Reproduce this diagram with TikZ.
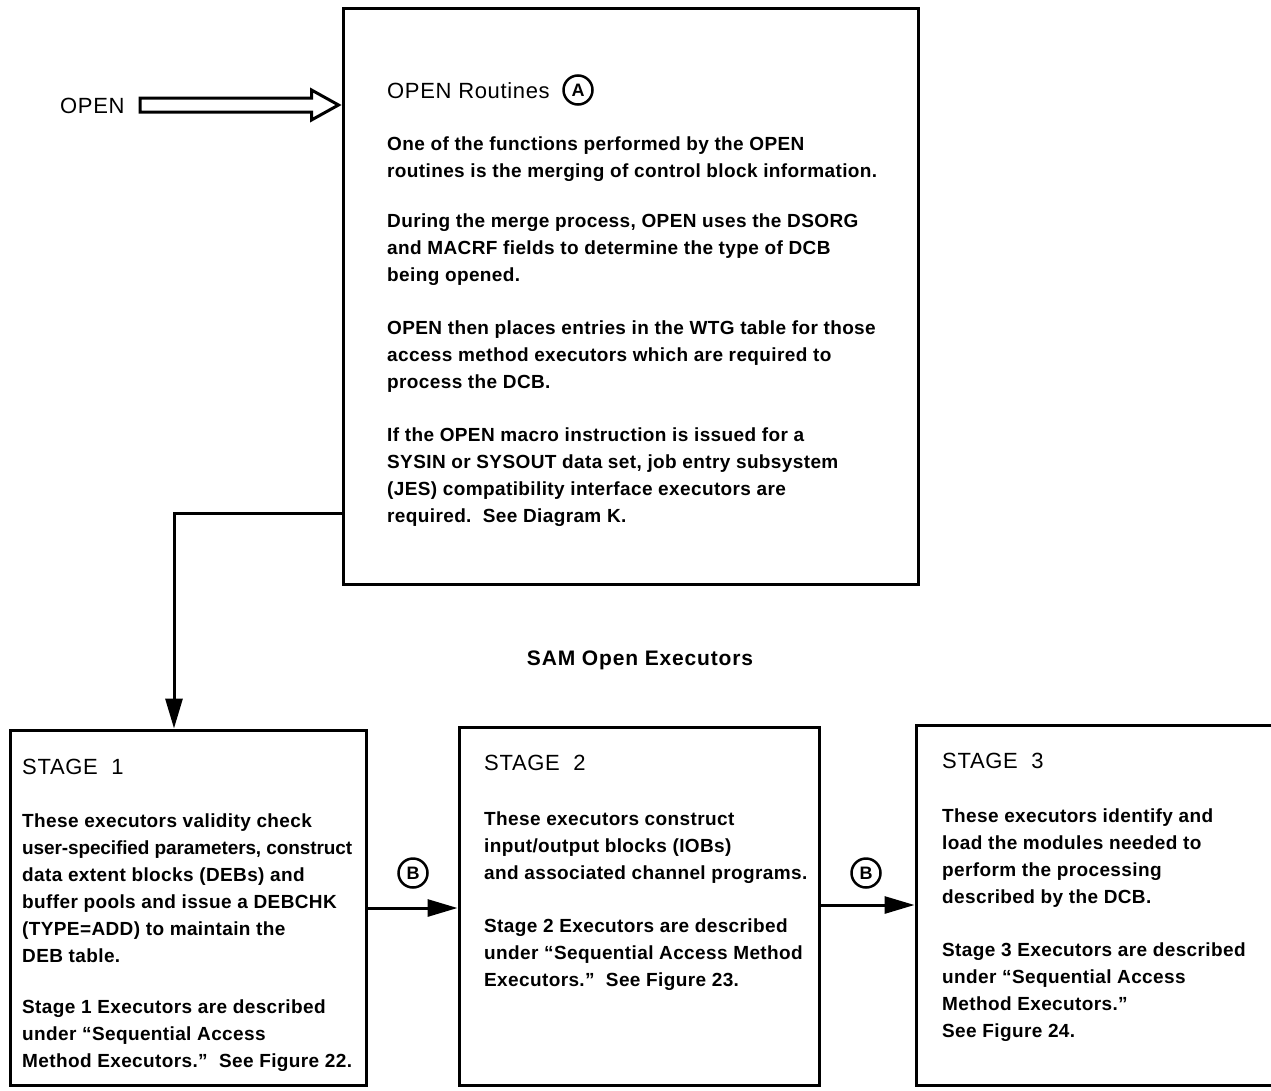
\documentclass[tikz,border=0pt]{standalone}
\usepackage{fontspec}
\setmainfont{Liberation Sans}
\usetikzlibrary{arrows.meta,calc}
\newcommand\bodysize{\fontsize{19}{27}\selectfont\bfseries\addfontfeature{LetterSpace=2}}
\newcommand\titlesize{\fontsize{22}{27}\selectfont\addfontfeature{LetterSpace=3}}
\newcommand\tighter{\addfontfeature{LetterSpace=-0.6}}
\newcommand\paralines[4]{%
  \foreach \t [count=\i] in {#4} {%
    \node[bodytxt] (#1\i) at (#2,{#3+27*(\i-1)}) {\t};}}
\tikzset{
  bodytxt/.style={font=\bodysize, anchor=base west, inner sep=0pt},
  titletxt/.style={font=\titlesize, anchor=base west, inner sep=0pt},
  box/.style={draw, line width=3pt, rectangle, inner sep=0pt},
  conn/.style={line width=3pt, -{Triangle[length=30pt,width=17pt]}},
  circ/.style={draw, circle, line width=2.5pt, minimum size=29pt, inner sep=0pt, font=\fontsize{18}{18}\selectfont\bfseries},
}
\begin{document}
\begin{tikzpicture}[x=1pt,y=-1pt]
\clip (0,0) rectangle (1271,1090);
\fill[white] (0,0) rectangle (1271,1090);

% boxes
\node[box, minimum width=575pt, minimum height=576pt] (top) at (630.5,296) {};
\node[box, minimum width=356pt, minimum height=355pt] (s1) at (188,907.5) {};
\node[box, minimum width=360pt, minimum height=358pt] (s2) at (639,906) {};
\node[box, minimum width=400pt, minimum height=360pt] (s3) at (1116,905) {};

% OPEN label and hollow arrow
\node[titletxt] (openlbl) at (60,113) {OPEN};
\coordinate (ha0) at (140,105);
\coordinate (ha1) at (top.west |- ha0);
\draw[line width=3pt, line join=miter]
  ($(ha0)+(0,-7)$) -- ($(ha1)+(-30,-7)$) -- ($(ha1)+(-30,-15)$) -- ($(ha1)+(-3,0)$)
  -- ($(ha1)+(-30,15)$) -- ($(ha1)+(-30,7)$) -- ($(ha0)+(0,7)$) -- cycle;

% top box text
\node[titletxt] (toptitle) at (387,98) {OPEN Routines};
\node[circ] (cA) at (578,90) {A};
\paralines{ta}{387}{150}{{One of the functions performed by the OPEN},{routines is the merging of control block information.}}
\paralines{tb}{387}{227}{{During the merge process, OPEN uses the DSORG},{and MACRF fields to determine the type of DCB},{being opened.}}
\paralines{tc}{387}{334}{{OPEN then places entries in the WTG table for those},{access method executors which are required to},{process the DCB.}}
\paralines{td}{387}{441}{{If the OPEN macro instruction is issued for a},{SYSIN or SYSOUT data set, job entry subsystem},{(JES) compatibility interface executors are},{required.\ \ See Diagram K.}}

% heading
\node[font=\fontsize{21}{21}\selectfont\bfseries\addfontfeature{LetterSpace=4}, anchor=base, inner sep=0pt] (sam) at (640,665) {SAM Open Executors};

% stage 1
\node[titletxt] (s1t) at (22,774) {STAGE\ \ 1};
\paralines{sa}{22}{827}{{These executors validity check},{\tighter user-specified parameters, construct},{data extent blocks (DEBs) and},{buffer pools and issue a DEBCHK},{(TYPE=ADD) to maintain the},{DEB table.}}
\paralines{sb}{22}{1013}{{Stage 1 Executors are described},{under “Sequential Access},{Method Executors.”\ \ See Figure 22.}}

% stage 2
\node[titletxt] (s2t) at (484,770) {STAGE\ \ 2};
\paralines{sc}{484}{825}{{These executors construct},{input/output blocks (IOBs)},{and associated channel programs.}}
\paralines{sd}{484}{932}{{Stage 2 Executors are described},{under “Sequential Access Method},{Executors.”\ \ See Figure 23.}}

% stage 3
\node[titletxt] (s3t) at (942,768) {STAGE\ \ 3};
\paralines{se}{942}{822}{{These executors identify and},{load the modules needed to},{perform the processing},{described by the DCB.}}
\paralines{sf}{942}{956}{{Stage 3 Executors are described},{under “Sequential Access},{Method Executors.”},{See Figure 24.}}

% connectors
\coordinate (c1) at (top.west |- 0,513);
\coordinate (c2) at (174,513);
\draw[conn] (c1) -- (c2) -- (c2 |- s1.north);
\node[circ] (cB1) at (413,873) {B};
\node[circ] (cB2) at (866,873) {B};
\coordinate (a1) at (s1.east |- 0,908);
\draw[conn] (a1) -- (a1 -| s2.west);
\coordinate (a2) at (s2.east |- 0,905);
\draw[conn] (a2) -- (a2 -| s3.west);
\end{tikzpicture}
\end{document}
